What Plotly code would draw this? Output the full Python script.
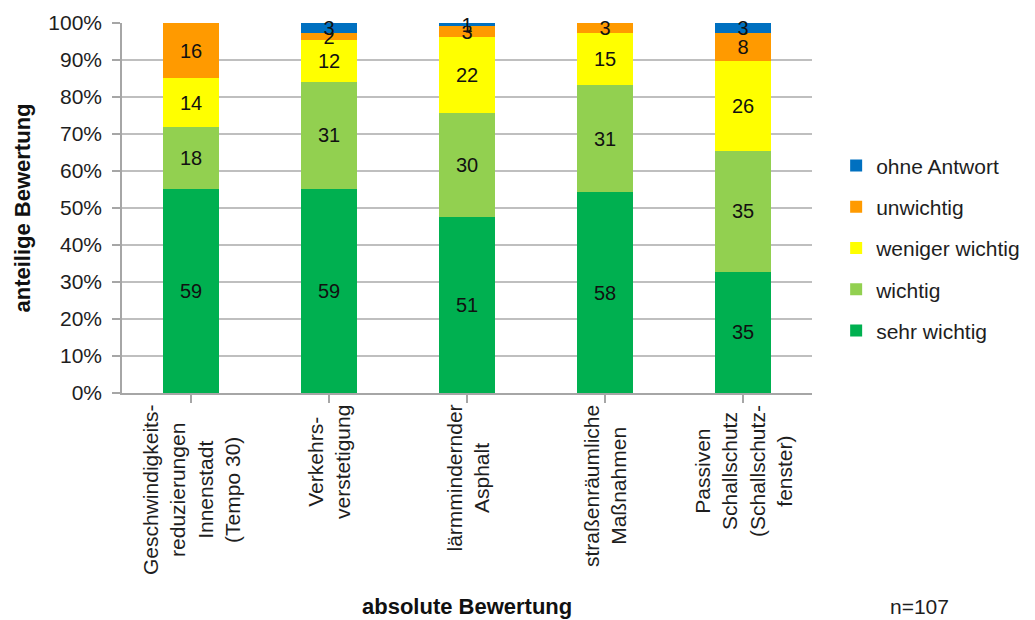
import plotly.graph_objects as go

# Maßnahmen (categories) with line breaks as printed under the bars
categories = [
    "Geschwindigkeits-<br>reduzierungen<br>Innenstadt<br>(Tempo 30)",
    "Verkehrs-<br>verstetigung",
    "lärmmindernder<br>Asphalt",
    "straßenräumliche<br>Maßnahmen",
    "Passiven<br>Schallschutz<br>(Schallschutz-<br>fenster)",
]

# Absolute counts per rating (n = 107 per measure)
sehr_wichtig = [59, 59, 51, 58, 35]
wichtig = [18, 31, 30, 31, 35]
weniger_wichtig = [14, 12, 22, 15, 26]
unwichtig = [16, 2, 3, 3, 8]
ohne_antwort = [0, 3, 1, 0, 3]

series = [
    ("sehr wichtig", sehr_wichtig, "#00B050"),
    ("wichtig", wichtig, "#92D050"),
    ("weniger wichtig", weniger_wichtig, "#FFFF00"),
    ("unwichtig", unwichtig, "#FF9A00"),
    ("ohne Antwort", ohne_antwort, "#0070C0"),
]

FONT = "Liberation Sans, Arial, sans-serif"
TXT = "#1E1E1E"

fig = go.Figure()
for i, (name, vals, color) in enumerate(series):
    fig.add_trace(go.Bar(
        x=list(range(len(categories))),
        y=vals,
        name=name,
        legendgroup=str(i),
        legendrank=len(series) - i,
        marker=dict(color=color, line=dict(width=0)),
        text=[str(v) if v > 0 else "" for v in vals],
        textposition="inside",
        insidetextanchor="middle",
        textangle=0,
        textfont=dict(family=FONT, size=20, color="#111111"),
        cliponaxis=False,
        hoverinfo="skip",
    ))

fig.update_layout(
    width=1035,
    height=620,
    barmode="stack",
    barnorm="percent",
    bargap=0.6,
    plot_bgcolor="white",
    paper_bgcolor="white",
    margin=dict(l=122, r=223, t=23, b=227, autoexpand=False),
    font=dict(family=FONT, size=20, color=TXT),
    uniformtext=dict(minsize=20, mode="show"),
    legend=dict(
        x=1.035, y=0.6696, xanchor="left", yanchor="top",
        traceorder="grouped",
        tracegroupgap=11,
        font=dict(family=FONT, size=21, color=TXT),
        itemwidth=30,
    ),
    showlegend=True,
)

fig.update_xaxes(
    tickmode="array",
    tickvals=list(range(len(categories))),
    showticklabels=False,
    range=[-0.5, len(categories) - 0.5],
    showline=True, linecolor="#A6A6A6", linewidth=1.5,
    ticks="outside", ticklen=8, tickcolor="#A6A6A6", tickwidth=1.5,
    tickson="boundaries",
    showgrid=False,
)

fig.update_yaxes(
    range=[0, 100],
    dtick=10,
    ticksuffix="%",
    showline=True, linecolor="#A6A6A6", linewidth=1.5,
    ticks="outside", ticklen=8, tickcolor="#A6A6A6", tickwidth=1.5,
    ticklabelstandoff=6,
    showgrid=True, gridcolor="#BFBFBF", gridwidth=1.5,
    zeroline=False,
    tickfont=dict(family=FONT, size=21, color=TXT),
    title=dict(text="<b>anteilige Bewertung</b>", font=dict(family=FONT, size=22, color="#111111"), standoff=12),
)

# Category labels, rotated and centred line by line under each bar
for i, label in enumerate(categories):
    fig.add_annotation(
        text=label, x=i, xref="x", y=0, yref="paper",
        yshift=-10, xanchor="center", yanchor="top",
        textangle=-90, align="center", showarrow=False,
        font=dict(family=FONT, size=21, color=TXT),
    )

fig.add_annotation(
    text="<b>absolute Bewertung</b>", xref="paper", yref="paper",
    x=0.5, y=-0.578, xanchor="center", yanchor="middle", showarrow=False,
    font=dict(family=FONT, size=22, color="#111111"),
)
fig.add_annotation(
    text="n=107", xref="paper", yref="paper",
    x=(919 - 122) / 690, y=-0.578, xanchor="center", yanchor="middle", showarrow=False,
    font=dict(family=FONT, size=21, color=TXT),
)

fig.write_html("out.html")
